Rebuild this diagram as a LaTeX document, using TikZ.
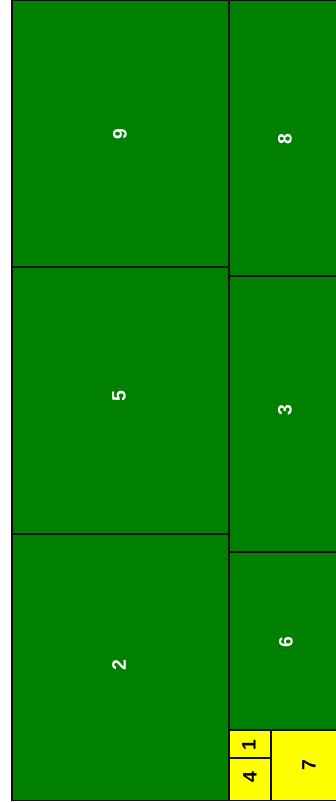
\documentclass[tikz,border=0pt]{standalone}
\usepackage{fontspec}
\setmainfont{Liberation Sans}
\usepackage{tikz}
\definecolor{verde}{HTML}{008000}
\definecolor{amarelo}{HTML}{FFFF00}
\definecolor{borda}{HTML}{101010}

\begin{document}
\begin{tikzpicture}[x=1bp, y=-1bp,
  bloco/.style={draw=borda, line width=1.3bp, fill=verde},
  blocoam/.style={draw=borda, line width=1.3bp, fill=amarelo},
  rot/.style={rotate=90, font=\fontsize{19.5}{19.5}\selectfont\bfseries, text=white, inner sep=0pt},
  rotam/.style={rot, text=black}
]
\useasboundingbox (0,0) rectangle (335,803);
% coluna da esquerda
\draw[bloco] (12,0.5) rectangle (229,267);
\draw[bloco] (12,267) rectangle (229,534);
\draw[bloco] (12,534) rectangle (229,800.5);
% coluna da direita
\draw[bloco] (229,0.5) rectangle (341,276);
\draw[bloco] (229,276) rectangle (341,552);
\draw[bloco] (229,552) rectangle (341,730);
% canto amarelo
\draw[blocoam] (229,730) rectangle (271,758);
\draw[blocoam] (229,758) rectangle (271,800.5);
\draw[blocoam] (271,730) rectangle (341,800.5);
% rotulos
\node[rot]   (c9) at (120,134)   {9};
\node[rot]   (c5) at (119,396)   {5};
\node[rot]   (c2) at (119,665)   {2};
\node[rot]   (c8) at (285,139)   {8};
\node[rot]   (c3) at (285,410)   {3};
\node[rot]   (c6) at (286,642)   {6};
\node[rotam] (c1) at (249,745)   {1};
\node[rotam] (c4) at (250,777)   {4};
\node[rotam] (c7) at (309,765)   {7};
\end{tikzpicture}
\end{document}
